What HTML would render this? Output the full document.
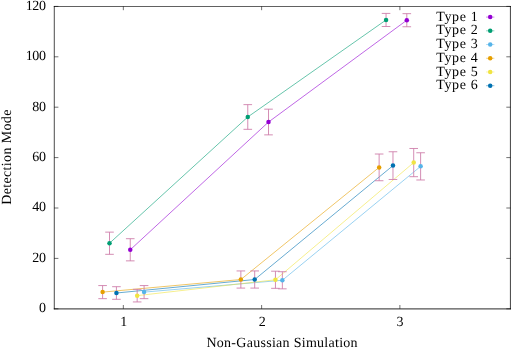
<!DOCTYPE html>
<html><head><meta charset="utf-8"><title>plot</title>
<style>
html,body{margin:0;padding:0;background:#fff;}
body{width:512px;height:348px;overflow:hidden;}
svg{display:block;}
.t{font-family:"Liberation Serif",serif;font-size:14px;fill:#000;text-rendering:geometricPrecision;}
.d{font-size:14px;letter-spacing:-0.35px;}
</style></head><body>
<svg width="512" height="348" viewBox="0 0 512 348">
<rect width="512" height="348" fill="#fff"/>
<path d="M53.8 6.5H511" fill="none" stroke="#000" stroke-width="1" stroke-opacity="0.62"/>
<path d="M54.3 6V309.3" fill="none" stroke="#000" stroke-width="1.05" stroke-opacity="0.68"/>
<path d="M53.8 308.75H511" fill="none" stroke="#000" stroke-width="1.25" stroke-opacity="0.68"/>
<path d="M510.45 6V309.3" fill="none" stroke="#000" stroke-width="1.1" stroke-opacity="0.68"/>
<path d="M54.20 308.80h4.2M510.50 308.80h-4.2M54.20 258.40h4.2M510.50 258.40h-4.2M54.20 208.00h4.2M510.50 208.00h-4.2M54.20 157.60h4.2M510.50 157.60h-4.2M54.20 107.20h4.2M510.50 107.20h-4.2M54.20 56.80h4.2M510.50 56.80h-4.2M54.20 6.40h4.2M510.50 6.40h-4.2M123.34 308.80v-3.8M123.34 6.40v3.8M261.61 308.80v-3.8M261.61 6.40v3.8M399.88 308.80v-3.8M399.88 6.40v3.8" stroke="#000" stroke-width="0.8" stroke-opacity="0.7" fill="none"/>
<polyline fill="none" stroke="#9400D3" stroke-width="0.8" stroke-opacity="0.75" points="130.25,249.78 268.52,122.02 406.80,20.21"/>
<polyline fill="none" stroke="#009E73" stroke-width="0.8" stroke-opacity="0.75" points="109.51,243.23 247.78,116.98 386.05,19.96"/>
<polyline fill="none" stroke="#56B4E9" stroke-width="0.8" stroke-opacity="0.75" points="144.08,292.12 282.35,280.28 420.62,166.37"/>
<polyline fill="none" stroke="#E69F00" stroke-width="0.8" stroke-opacity="0.75" points="102.60,292.12 240.87,279.52 379.14,167.38"/>
<polyline fill="none" stroke="#F0E442" stroke-width="0.8" stroke-opacity="0.75" points="137.16,295.65 275.44,279.77 413.71,162.59"/>
<polyline fill="none" stroke="#0072B2" stroke-width="0.8" stroke-opacity="0.75" points="116.42,293.00 254.70,279.52 392.97,165.62"/>
<path fill="none" stroke="#CC79A7" stroke-width="0.9" stroke-opacity="0.95" d="M130.25 238.70V260.87M125.95 238.70H134.55M125.95 260.87H134.55"/>
<path fill="none" stroke="#CC79A7" stroke-width="0.9" stroke-opacity="0.95" d="M268.52 109.17V134.87M264.22 109.17H272.82M264.22 134.87H272.82"/>
<path fill="none" stroke="#CC79A7" stroke-width="0.9" stroke-opacity="0.95" d="M406.80 13.66V26.76M402.50 13.66H411.10M402.50 26.76H411.10"/>
<path fill="none" stroke="#CC79A7" stroke-width="0.9" stroke-opacity="0.95" d="M109.51 232.14V254.32M105.21 232.14H113.81M105.21 254.32H113.81"/>
<path fill="none" stroke="#CC79A7" stroke-width="0.9" stroke-opacity="0.95" d="M247.78 104.63V129.33M243.48 104.63H252.08M243.48 129.33H252.08"/>
<path fill="none" stroke="#CC79A7" stroke-width="0.9" stroke-opacity="0.95" d="M386.05 13.41V26.51M381.75 13.41H390.35M381.75 26.51H390.35"/>
<path fill="none" stroke="#CC79A7" stroke-width="0.9" stroke-opacity="0.95" d="M144.08 285.57V298.67M139.78 285.57H148.38M139.78 298.67H148.38"/>
<path fill="none" stroke="#CC79A7" stroke-width="0.9" stroke-opacity="0.95" d="M282.35 271.71V288.84M278.05 271.71H286.65M278.05 288.84H286.65"/>
<path fill="none" stroke="#CC79A7" stroke-width="0.9" stroke-opacity="0.95" d="M420.62 152.76V179.98M416.32 152.76H424.92M416.32 179.98H424.92"/>
<path fill="none" stroke="#CC79A7" stroke-width="0.9" stroke-opacity="0.95" d="M102.60 285.57V298.67M98.30 285.57H106.90M98.30 298.67H106.90"/>
<path fill="none" stroke="#CC79A7" stroke-width="0.9" stroke-opacity="0.95" d="M240.87 270.95V288.09M236.57 270.95H245.17M236.57 288.09H245.17"/>
<path fill="none" stroke="#CC79A7" stroke-width="0.9" stroke-opacity="0.95" d="M379.14 154.02V180.74M374.84 154.02H383.44M374.84 180.74H383.44"/>
<path fill="none" stroke="#CC79A7" stroke-width="0.9" stroke-opacity="0.95" d="M137.16 289.35V301.95M132.86 289.35H141.46M132.86 301.95H141.46"/>
<path fill="none" stroke="#CC79A7" stroke-width="0.9" stroke-opacity="0.95" d="M275.44 271.20V288.34M271.14 271.20H279.74M271.14 288.34H279.74"/>
<path fill="none" stroke="#CC79A7" stroke-width="0.9" stroke-opacity="0.95" d="M413.71 148.48V176.70M409.41 148.48H418.01M409.41 176.70H418.01"/>
<path fill="none" stroke="#CC79A7" stroke-width="0.9" stroke-opacity="0.95" d="M116.42 286.70V299.30M112.12 286.70H120.72M112.12 299.30H120.72"/>
<path fill="none" stroke="#CC79A7" stroke-width="0.9" stroke-opacity="0.95" d="M254.70 270.95V288.09M250.40 270.95H259.00M250.40 288.09H259.00"/>
<path fill="none" stroke="#CC79A7" stroke-width="0.9" stroke-opacity="0.95" d="M392.97 151.76V179.48M388.67 151.76H397.27M388.67 179.48H397.27"/>
<circle cx="130.25" cy="249.78" r="2.25" fill="#9400D3"/>
<circle cx="268.52" cy="122.02" r="2.25" fill="#9400D3"/>
<circle cx="406.80" cy="20.21" r="2.25" fill="#9400D3"/>
<circle cx="109.51" cy="243.23" r="2.25" fill="#009E73"/>
<circle cx="247.78" cy="116.98" r="2.25" fill="#009E73"/>
<circle cx="386.05" cy="19.96" r="2.25" fill="#009E73"/>
<circle cx="144.08" cy="292.12" r="2.25" fill="#56B4E9"/>
<circle cx="282.35" cy="280.28" r="2.25" fill="#56B4E9"/>
<circle cx="420.62" cy="166.37" r="2.25" fill="#56B4E9"/>
<circle cx="102.60" cy="292.12" r="2.25" fill="#E69F00"/>
<circle cx="240.87" cy="279.52" r="2.25" fill="#E69F00"/>
<circle cx="379.14" cy="167.38" r="2.25" fill="#E69F00"/>
<circle cx="137.16" cy="295.65" r="2.25" fill="#F0E442"/>
<circle cx="275.44" cy="279.77" r="2.25" fill="#F0E442"/>
<circle cx="413.71" cy="162.59" r="2.25" fill="#F0E442"/>
<circle cx="116.42" cy="293.00" r="2.25" fill="#0072B2"/>
<circle cx="254.70" cy="279.52" r="2.25" fill="#0072B2"/>
<circle cx="392.97" cy="165.62" r="2.25" fill="#0072B2"/>
<path d="M486 17.10H494.4" stroke="#9400D3" stroke-width="0.8" stroke-opacity="0.55"/>
<circle cx="490.2" cy="17.10" r="2.25" fill="#9400D3"/>
<path d="M486 30.82H494.4" stroke="#009E73" stroke-width="0.8" stroke-opacity="0.55"/>
<circle cx="490.2" cy="30.82" r="2.25" fill="#009E73"/>
<path d="M486 44.54H494.4" stroke="#56B4E9" stroke-width="0.8" stroke-opacity="0.55"/>
<circle cx="490.2" cy="44.54" r="2.25" fill="#56B4E9"/>
<path d="M486 58.26H494.4" stroke="#E69F00" stroke-width="0.8" stroke-opacity="0.55"/>
<circle cx="490.2" cy="58.26" r="2.25" fill="#E69F00"/>
<path d="M486 71.98H494.4" stroke="#F0E442" stroke-width="0.8" stroke-opacity="0.55"/>
<circle cx="490.2" cy="71.98" r="2.25" fill="#F0E442"/>
<path d="M486 85.70H494.4" stroke="#0072B2" stroke-width="0.8" stroke-opacity="0.55"/>
<circle cx="490.2" cy="85.70" r="2.25" fill="#0072B2"/>
<g opacity="0.999">
<text x="45.6" y="312.15" text-anchor="end" class="t d">0</text>
<text x="45.6" y="261.75" text-anchor="end" class="t d">20</text>
<text x="45.6" y="211.35" text-anchor="end" class="t d">40</text>
<text x="45.6" y="160.95" text-anchor="end" class="t d">60</text>
<text x="45.6" y="110.55" text-anchor="end" class="t d">80</text>
<text x="45.6" y="60.15" text-anchor="end" class="t d">100</text>
<text x="45.6" y="9.75" text-anchor="end" class="t d">120</text>
<text x="123.69" y="326.3" text-anchor="middle" class="t d">1</text>
<text x="261.96" y="326.3" text-anchor="middle" class="t d">2</text>
<text x="399.73" y="326.3" text-anchor="middle" class="t d">3</text>
<text x="206.4" y="346.6" textLength="151.2" lengthAdjust="spacing" class="t">Non-Gaussian Simulation</text>
<text transform="translate(10.7,204.8) rotate(-90)" textLength="95.2" lengthAdjust="spacing" class="t">Detection Mode</text>
<text x="436.2" y="20.70" textLength="41.6" lengthAdjust="spacing" class="t">Type 1</text>
<text x="436.2" y="34.42" textLength="41.6" lengthAdjust="spacing" class="t">Type 2</text>
<text x="436.2" y="48.14" textLength="41.6" lengthAdjust="spacing" class="t">Type 3</text>
<text x="436.2" y="61.86" textLength="41.6" lengthAdjust="spacing" class="t">Type 4</text>
<text x="436.2" y="75.58" textLength="41.6" lengthAdjust="spacing" class="t">Type 5</text>
<text x="436.2" y="89.30" textLength="41.6" lengthAdjust="spacing" class="t">Type 6</text>
</g>
</svg>
</body></html>
